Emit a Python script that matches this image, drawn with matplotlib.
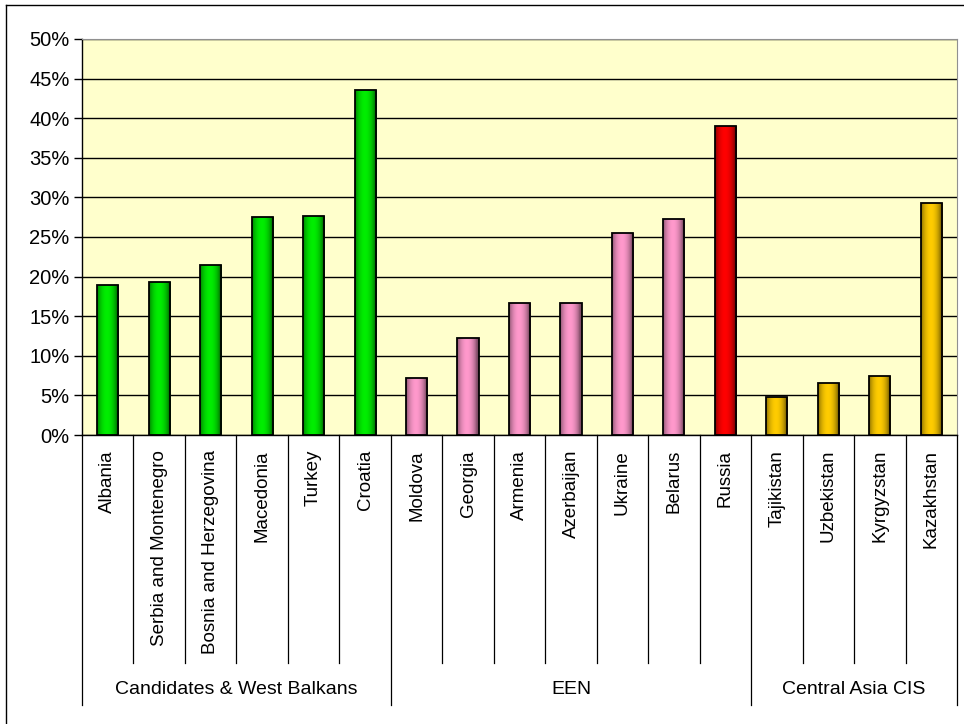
import numpy as np
import matplotlib
matplotlib.use("Agg")
from matplotlib import pyplot as plt
from matplotlib import transforms
from matplotlib.colors import to_rgb
from matplotlib.lines import Line2D

countries = ['Albania', 'Serbia and Montenegro', 'Bosnia and Herzegovina', 'Macedonia',
             'Turkey', 'Croatia', 'Moldova', 'Georgia', 'Armenia', 'Azerbaijan',
             'Ukraine', 'Belarus', 'Russia', 'Tajikistan', 'Uzbekistan', 'Kyrgyzstan',
             'Kazakhstan']
values = [19.0, 19.3, 21.5, 27.5, 27.7, 43.6, 7.2, 12.2, 16.7, 16.7,
          25.5, 27.3, 39.0, 4.8, 6.6, 7.4, 29.3]
groups = ['Candidates & West Balkans', 'EEN', 'Central Asia CIS']
group_sizes = [6, 7, 4]
bar_colors = ['#00ee00'] * 6 + ['#ff99cc'] * 6 + ['#ff0000'] + ['#ffcc00'] * 4

plt.rcParams['font.family'] = ['Liberation Sans', 'DejaVu Sans']

W, H = 964, 724
fig = plt.figure(figsize=(W / 100, H / 100), dpi=100)
ax = fig.add_axes([82 / W, 1 - 435 / H, 875 / W, 396 / H])
ax.set_facecolor('#ffffcc')

x = np.arange(len(countries))
bars = ax.bar(x, values, width=0.41, color=bar_colors, edgecolor='black',
              linewidth=1.3, zorder=3)

# cylinder-like shading on each bar
t = np.linspace(0, 1, 64)
shade = 0.5 + 0.5 * np.sin(np.pi * np.clip(t * 1.1, 0, 1)) ** 0.7
for b, c in zip(bars, bar_colors):
    rgb = np.array(to_rgb(c))
    img = (shade[:, None] * rgb[None, :])[None, :, :]
    x0, w, h = b.get_x(), b.get_width(), b.get_height()
    im = ax.imshow(img, extent=[x0, x0 + w, 0, h], aspect='auto',
                   interpolation='bilinear', zorder=3.5)
    im.set_clip_path(b)
    b.set_facecolor('none')
    b.set_zorder(4)

ax.set_xlim(-0.5, len(countries) - 0.5)
ax.set_ylim(0, 50)
ax.set_yticks(np.arange(0, 51, 5))
ax.set_yticklabels([f'{v}%' for v in range(0, 51, 5)], fontsize=14.5)
ax.yaxis.grid(True, color='black', linewidth=1, zorder=1)
ax.set_axisbelow(True)
ax.tick_params(axis='y', length=6, width=1, direction='out', pad=3)
ax.tick_params(axis='x', bottom=False, labelbottom=False)
for s in ['top', 'right']:
    ax.spines[s].set_color('#909090')
ax.spines['left'].set_linewidth(1)
ax.spines['bottom'].set_linewidth(1)

# category labels and divider lines below the axis
tr = transforms.blended_transform_factory(ax.transData, fig.transFigure)
y_axis = 1 - 435 / H
y_cat = 1 - 663 / H
y_grp = 1 - 705 / H
for i, name in enumerate(countries):
    ax.text(i, 1 - 450 / H, name, transform=tr, rotation=90, ha='center',
            va='top', fontsize=13.5)

bounds = np.concatenate([[0], np.cumsum(group_sizes)])
for k in range(len(countries) + 1):
    y_end = y_grp if k in bounds else y_cat
    fig.add_artist(Line2D([k - 0.5, k - 0.5], [y_axis, y_end], transform=tr,
                          color='black', linewidth=0.9))

for g, lo, hi in zip(groups, bounds[:-1], bounds[1:]):
    ax.text((lo + hi - 1) / 2, 1 - 690 / H, g, transform=tr, ha='center',
            va='center', fontsize=14)

# outer chart frame
fig.add_artist(Line2D([6 / W, 6 / W], [0, 1 - 5 / H], transform=fig.transFigure,
                      color='black', linewidth=1))
fig.add_artist(Line2D([6 / W, 1], [1 - 5 / H, 1 - 5 / H], transform=fig.transFigure,
                      color='black', linewidth=1))

fig.savefig('out.png', dpi=100)
